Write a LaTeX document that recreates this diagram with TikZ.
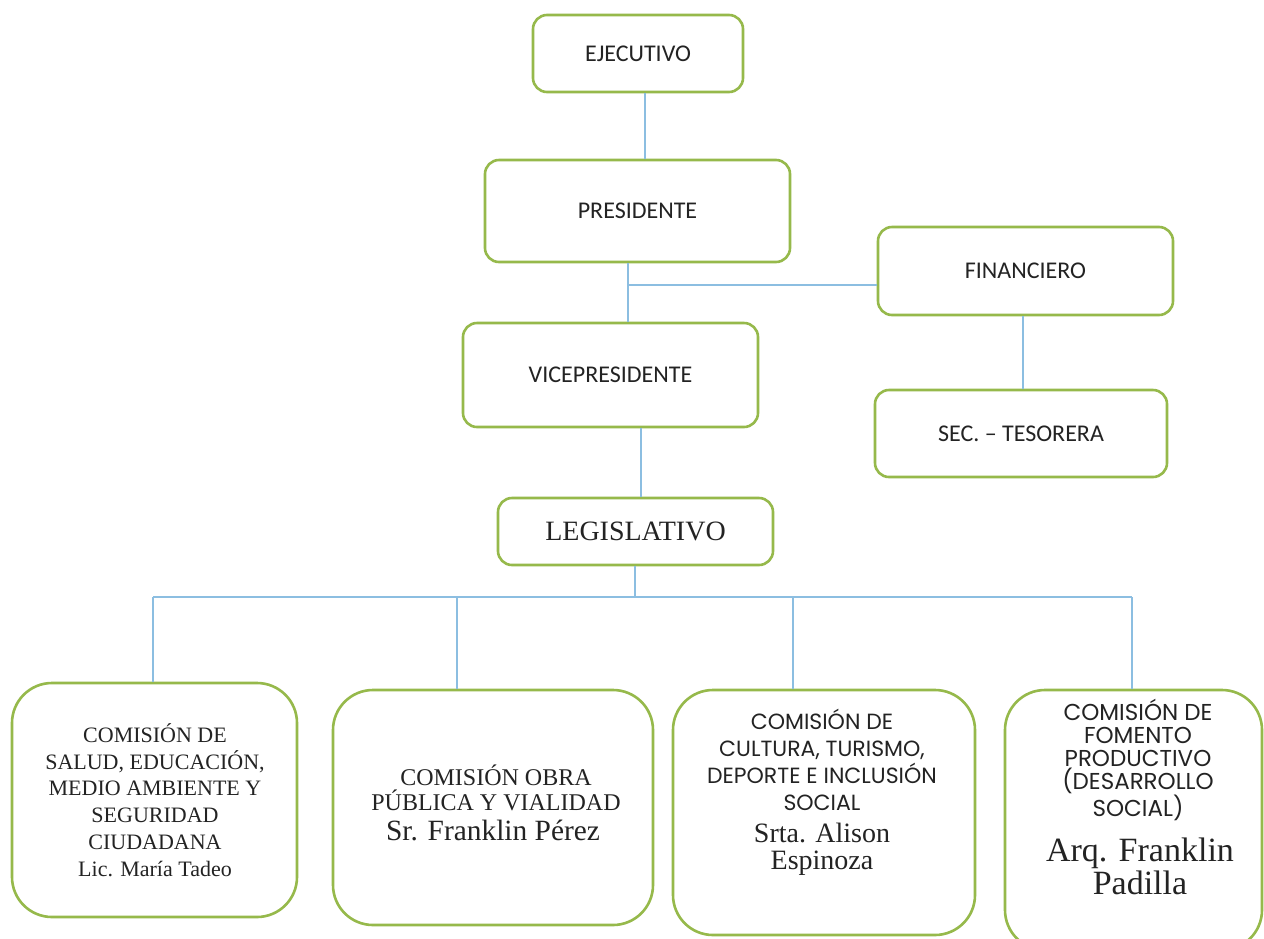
\documentclass[tikz,border=0pt]{standalone}
\usepackage{fontspec}
\setmainfont{Liberation Serif}
\newfontfamily\carlito{Carlito}
\newfontfamily\gothic{Poppins}
\definecolor{boxgreen}{RGB}{150,185,75}
\definecolor{linkblue}{RGB}{140,190,225}
\definecolor{ink}{RGB}{35,35,35}
\begin{document}
\begin{tikzpicture}[x=0.5pt,y=-0.5pt,
  topbox/.style={draw=boxgreen, line width=1.3pt, rounded corners=7pt, inner sep=0pt, text=ink, font=\carlito\fontsize{12}{14}\selectfont},
  combox/.style={draw=boxgreen, line width=1.3pt, rounded corners=20pt, inner sep=0pt},
  comtext/.style={text=ink, align=center, inner sep=0pt},
  link/.style={draw=linkblue, line width=0.6pt}]
\useasboundingbox (0,0) rectangle (1264,938);
\fill[white] (0,0) rectangle (1264,938);

% upper boxes
\node[topbox, minimum width=105pt, minimum height=38.5pt] (ej) at (638,53.5) {EJECUTIVO};
\node[topbox, minimum width=152.5pt, minimum height=51pt] (pres) at (637.5,211) {PRESIDENTE};
\node[topbox, minimum width=147.5pt, minimum height=52pt] (vice) at (610.5,375) {VICEPRESIDENTE};
\node[topbox, minimum width=147.5pt, minimum height=44pt] (fin) at (1025.5,271) {FINANCIERO};
\node[topbox, minimum width=146pt, minimum height=43.5pt] (sec) at (1021,433.5) {SEC. – TESORERA};
\node[topbox, font=\fontsize{14}{16}\selectfont, minimum width=137.5pt, minimum height=33.5pt] (leg) at (635.5,531.5) {LEGISLATIVO};

% commission boxes
\node[combox, minimum width=142.5pt, minimum height=117pt] (c1) at (154.5,800) {};
\node[combox, minimum width=160pt, minimum height=117.5pt] (c2) at (493,807.5) {};
\node[combox, minimum width=151pt, minimum height=122.5pt] (c3) at (824,812.5) {};
\node[combox, minimum width=128.5pt, minimum height=130pt] (c4) at (1133.5,820) {};

% commission texts
\node[comtext, font=\fontsize{11}{13.4}\selectfont] (c1t) at (155,800) {COMISIÓN DE\\SALUD, EDUCACIÓN,\\MEDIO AMBIENTE Y\\SEGURIDAD\\CIUDADANA\\Lic. María Tadeo};
\node[comtext, font=\fontsize{12}{12.5}\selectfont] (c2t) at (496,788) {COMISIÓN OBRA\\PÚBLICA Y VIALIDAD};
\node[comtext, font=\fontsize{14.7}{15}\selectfont] (c2n) at (493,830) {Sr. Franklin Pérez};
\node[comtext, font=\gothic\fontsize{11}{13.5}\selectfont] (c3t) at (822,760) {COMISIÓN DE\\CULTURA, TURISMO,\\DEPORTE E INCLUSIÓN\\SOCIAL};
\node[comtext, font=\fontsize{14}{13.5}\selectfont] (c3n) at (822,849) {Srta. Alison\\Espinoza};
\node[comtext, font=\gothic\fontsize{11.5}{11.5}\selectfont] (c4t) at (1138,760) {COMISIÓN DE\\FOMENTO\\PRODUCTIVO\\(DESARROLLO\\SOCIAL)};
\node[comtext, font=\fontsize{17}{14}\selectfont] (c4n) at (1140,866) {Arq. Franklin\\Padilla};

% connector guide coordinates
\coordinate (sA) at (645,0);
\coordinate (sB) at (628,0);
\coordinate (hY) at (0,285);
\coordinate (sC) at (1023,0);
\coordinate (sD) at (641,0);
\coordinate (sE) at (635,0);
\coordinate (bus) at (0,597);
\coordinate (d1) at (153,0);
\coordinate (d2) at (457,0);
\coordinate (d3) at (793,0);
\coordinate (d4) at (1132,0);

% connectors
\draw[link] (ej.south -| sA) -- (pres.north -| sA);
\draw[link] (pres.south -| sB) -- (vice.north -| sB);
\draw[link] (sB |- hY) -- (fin.west |- hY);
\draw[link] (fin.south -| sC) -- (sec.north -| sC);
\draw[link] (vice.south -| sD) -- (leg.north -| sD);
\draw[link] (leg.south -| sE) -- (sE |- bus);
\draw[link] (d1 |- bus) -- (d4 |- bus);
\draw[link] (d1 |- bus) -- (c1.north -| d1);
\draw[link] (d2 |- bus) -- (c2.north -| d2);
\draw[link] (d3 |- bus) -- (c3.north -| d3);
\draw[link] (d4 |- bus) -- (c4.north -| d4);
\end{tikzpicture}
\end{document}
